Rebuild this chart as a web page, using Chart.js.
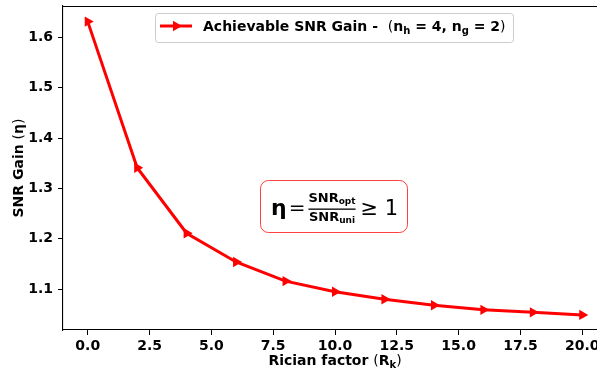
<!DOCTYPE html>
<html>
<head>
<meta charset="utf-8">
<script src="https://cdn.jsdelivr.net/npm/chart.js@4.4.0/dist/chart.umd.min.js"></script>
<style>
  html, body { margin: 0; padding: 0; background: #fff; }
  #wrap { width: 597px; height: 373px; overflow: hidden; position: relative; }
  canvas { display: block; }
</style>
</head>
<body>
<div id="wrap"><canvas id="gainChart" width="640" height="373"></canvas></div>
<script>
const ricianFactor = [0, 2, 4, 6, 8, 10, 12, 14, 16, 18, 20];
const snrGain = [1.631, 1.341, 1.211, 1.154, 1.116, 1.095, 1.080, 1.068, 1.059, 1.054, 1.049];
const xTicks = [0, 2.5, 5, 7.5, 10, 12.5, 15, 17.5, 20];
const yTicks = [1.1, 1.2, 1.3, 1.4, 1.5, 1.6];
const xRange = [-1, 21];
const yRange = [1.019, 1.662];

const FONT = "'DejaVu Sans', sans-serif";
const RED = "#ff0000";

// pieces are [text, size, weight, dy]
const runsWidth = (ctx, runs) => {
  let w = 0;
  runs.forEach(([text, size, weight]) => {
    ctx.font = `${weight} ${size}px ${FONT}`;
    w += ctx.measureText(text).width;
  });
  return w;
};

const drawRuns = (ctx, runs, x, y) => {
  let cx = x;
  runs.forEach(([text, size, weight, dy]) => {
    ctx.font = `${weight} ${size}px ${FONT}`;
    ctx.fillText(text, cx, y + (dy || 0));
    cx += ctx.measureText(text).width;
  });
  return cx;
};

const roundRect = (ctx, x, y, w, h, r) => {
  ctx.beginPath();
  ctx.moveTo(x + r, y);
  ctx.arcTo(x + w, y, x + w, y + h, r);
  ctx.arcTo(x + w, y + h, x, y + h, r);
  ctx.arcTo(x, y + h, x, y, r);
  ctx.arcTo(x, y, x + w, y, r);
  ctx.closePath();
};

const triangleRight = (ctx, x, y, r) => {
  ctx.beginPath();
  ctx.moveTo(x + r, y);
  ctx.lineTo(x - r / 2, y - r * Math.sqrt(3) / 2);
  ctx.lineTo(x - r / 2, y + r * Math.sqrt(3) / 2);
  ctx.closePath();
  ctx.fill();
};

const decorations = {
  id: "decorations",
  afterDraw: chart => {
    const ctx = chart.ctx;
    const area = chart.chartArea;
    ctx.save();

    // top and right spines
    ctx.strokeStyle = "#000";
    ctx.lineWidth = 1.1;
    ctx.beginPath();
    ctx.moveTo(area.left, area.top + 0.5);
    ctx.lineTo(area.right, area.top + 0.5);
    ctx.lineTo(area.right, area.bottom);
    ctx.stroke();

    ctx.fillStyle = "#000";
    ctx.textBaseline = "alphabetic";
    ctx.textAlign = "left";

    // x axis title
    const xTitle = [
      ["Rician factor ", 14, "bold"],
      ["(", 14, "normal"],
      ["R", 14, "bold"],
      ["k", 10, "bold", 3],
      [")", 14, "normal"],
    ];
    const xw = runsWidth(ctx, xTitle);
    drawRuns(ctx, xTitle, (area.left + area.right) / 2 - xw / 2, 365);

    // y axis title
    const yTitle = [
      ["SNR Gain ", 14, "bold"],
      ["(", 14, "normal"],
      ["η", 14, "bold"],
      [")", 14, "normal"],
    ];
    const yw = runsWidth(ctx, yTitle);
    ctx.save();
    ctx.translate(22.5, (area.top + area.bottom) / 2);
    ctx.rotate(-Math.PI / 2);
    drawRuns(ctx, yTitle, -yw / 2, 0);
    ctx.restore();

    // legend
    roundRect(ctx, 155.5, 13.5, 358, 29, 3);
    ctx.fillStyle = "rgba(255,255,255,0.85)";
    ctx.fill();
    ctx.strokeStyle = "#cccccc";
    ctx.lineWidth = 1;
    ctx.stroke();
    ctx.strokeStyle = RED;
    ctx.lineWidth = 3;
    ctx.beginPath();
    ctx.moveTo(160, 26);
    ctx.lineTo(192, 26);
    ctx.stroke();
    ctx.fillStyle = RED;
    triangleRight(ctx, 176, 26, 6);
    ctx.fillStyle = "#000";
    drawRuns(ctx, [
      ["Achievable SNR Gain -  ", 14, "bold"],
      ["(", 14, "normal"],
      ["n", 14, "bold"],
      ["h", 10, "bold", 3],
      [" = 4, ", 14, "bold"],
      ["n", 14, "bold"],
      ["g", 10, "bold", 3],
      [" = 2", 14, "bold"],
      [")", 14, "normal"],
    ], 203, 31);

    // gain definition box
    roundRect(ctx, 260.5, 180.5, 147, 52, 8);
    ctx.fillStyle = "#fff";
    ctx.fill();
    ctx.strokeStyle = "rgba(255,0,0,0.75)";
    ctx.lineWidth = 1;
    ctx.stroke();
    ctx.fillStyle = "#000";
    let cx = drawRuns(ctx, [["η", 22, "bold"]], 271, 215);
    cx = drawRuns(ctx, [["=", 20, "normal"]], cx + 2, 214);
    const fracLeft = cx + 3;
    const num = [["SNR", 13, "bold"], ["opt", 9, "bold", 2]];
    const den = [["SNR", 13, "bold"], ["uni", 9, "bold", 2]];
    const fw = Math.max(runsWidth(ctx, num), runsWidth(ctx, den));
    drawRuns(ctx, num, fracLeft + (fw - runsWidth(ctx, num)) / 2, 202);
    drawRuns(ctx, den, fracLeft + (fw - runsWidth(ctx, den)) / 2, 221);
    ctx.fillRect(fracLeft, 208.5, fw, 1.3);
    drawRuns(ctx, [["≥ 1", 21, "normal"]], fracLeft + fw + 5, 215);

    ctx.restore();
  },
};

const tickFont = { family: FONT, size: 14, weight: "bold" };

new Chart(document.getElementById("gainChart").getContext("2d"), {
  type: "line",
  data: {
    datasets: [
      {
        label: "Achievable SNR Gain",
        data: ricianFactor.map((x, i) => ({ x: x, y: snrGain[i] })),
        borderColor: RED,
        backgroundColor: RED,
        borderWidth: 3,
        pointStyle: "triangle",
        rotation: 90,
        pointRadius: 6,
        pointBorderWidth: 0,
        tension: 0,
      },
    ],
  },
  options: {
    responsive: false,
    animation: false,
    devicePixelRatio: 1,
    layout: { padding: { left: 0, right: 33, top: 5, bottom: 0 } },
    plugins: { legend: { display: false }, tooltip: { enabled: false } },
    scales: {
      x: {
        type: "linear",
        min: xRange[0],
        max: xRange[1],
        afterBuildTicks: scale => {
          scale.ticks = xTicks.map(v => ({ value: v }));
        },
        afterFit: scale => {
          scale.height = 43;
          scale.paddingLeft = 0;
          scale.paddingRight = 0;
        },
        grid: { drawOnChartArea: false, drawTicks: true, tickLength: 5, tickColor: "#000", tickWidth: 1 },
        border: { color: "#000", width: 1.1 },
        ticks: {
          font: tickFont,
          color: "#000",
          padding: 3,
          maxRotation: 0,
          autoSkip: false,
          callback: v => v.toFixed(1),
        },
      },
      y: {
        type: "linear",
        min: yRange[0],
        max: yRange[1],
        afterBuildTicks: scale => {
          scale.ticks = yTicks.map(v => ({ value: v }));
        },
        afterFit: scale => {
          scale.width = 63;
          scale.paddingTop = 0;
          scale.paddingBottom = 0;
        },
        grid: { drawOnChartArea: false, drawTicks: true, tickLength: 5, tickColor: "#000", tickWidth: 1 },
        border: { color: "#000", width: 1.1 },
        ticks: {
          font: tickFont,
          color: "#000",
          padding: 5,
          autoSkip: false,
          callback: v => v.toFixed(1),
        },
      },
    },
  },
  plugins: [decorations],
});
</script>
</body>
</html>
